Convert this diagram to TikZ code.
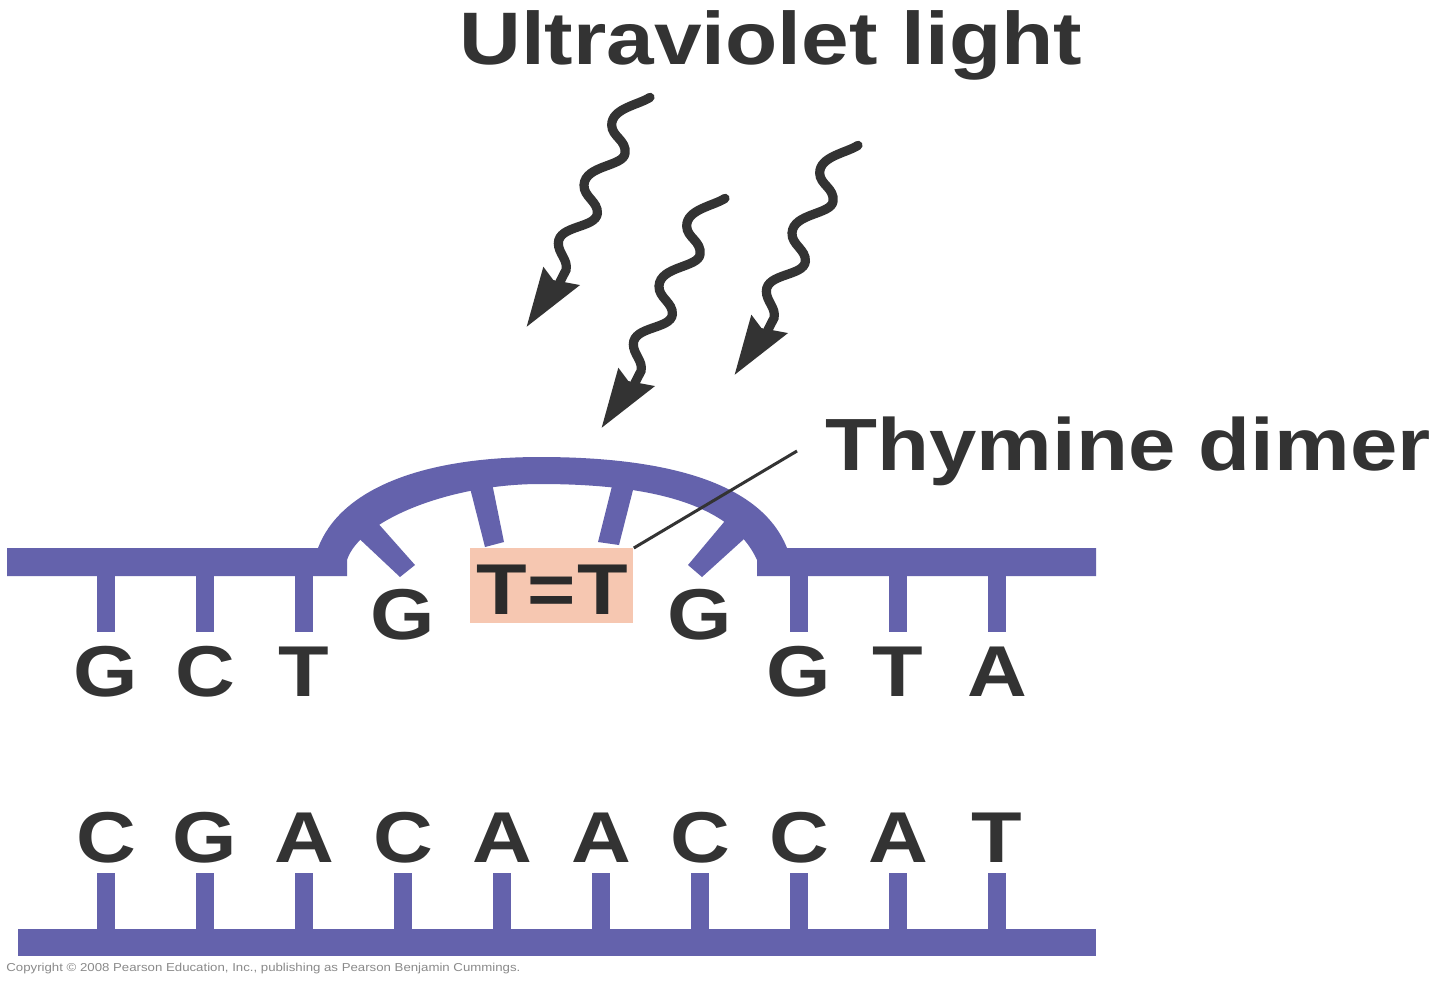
\documentclass[tikz,border=0pt]{standalone}
\usepackage{fontspec}
\setmainfont[FakeStretch=1.15]{Liberation Sans}
\definecolor{strand}{HTML}{6462AC}
\definecolor{ink}{HTML}{333333}
\definecolor{dimerbox}{HTML}{F6C7B1}
\definecolor{fine}{HTML}{8A8A8A}
\tikzset{
  base/.style={anchor=base,inner sep=0pt,text=ink,font=\bfseries\fontsize{36}{36}\selectfont},
  title/.style={anchor=base west,inner sep=0pt,text=ink,font=\bfseries\fontsize{37.2}{37}\selectfont},
  tick/.style={draw=strand,line width=9pt},
  strandfill/.style={fill=strand,draw=none},
  pics/uvray/.style={code={
    \begin{scope}[x=0.1667pt,y=-0.1667pt]
      \draw[ink,line width=4.6pt,line cap=round] (420,22) .. controls (385,45) and (305,55) .. (305,105) .. controls (305,140) and (350,150) .. (345,190) .. controls (340,230) and (225,225) .. (222,285) .. controls (220,320) and (265,335) .. (262,370) .. controls (258,415) and (145,405) .. (145,460) .. controls (145,490) and (175,510) .. (168,540) -- (150,575);
      \fill[ink] (50,710) -- (100,530) -- (130,570) -- (210,585) -- cycle;
    \end{scope}
  }}
}
\begin{document}
\begin{tikzpicture}[x=0.5pt,y=-0.5pt]
\useasboundingbox (0,0) rectangle (1440,982);
\fill[white] (0,0) rectangle (1440,982);
% upper strand with bulge
\path[strandfill] (7,548) -- (318,548)
  .. controls (340,490) and (420,457) .. (540,457)
  .. controls (660,457) and (760,480) .. (787,548)
  -- (1096,548) -- (1096,576) -- (757,576) -- (757,560)
  .. controls (730,500) and (640,484) .. (540,484)
  .. controls (450,484) and (360,520) .. (347,560)
  -- (347,576) -- (7,576) -- cycle;
% short slanted ticks
\path[strandfill] (368,512) -- (415,565) -- (400,577) -- (350,530) -- cycle;
\path[strandfill] (468,480) -- (491,478) -- (504,542) -- (485,547) -- cycle;
\path[strandfill] (614,478) -- (635,482) -- (619,545) -- (598,542) -- cycle;
\path[strandfill] (735,509) -- (755,529) -- (702,577) -- (688,565) -- cycle;
% lower strand
\path[strandfill] (18,929) rectangle (1096,956);
% upper ticks and letters
\foreach \n/\x/\l in {a/106/G,b/205/C,c/304/T,d/799/G,e/898/T,f/997/A}{
  \coordinate (ut\n) at (\x,570);
  \coordinate (ub\n) at (\x,632);
  \draw[tick] (ut\n) -- (ub\n);
  \node[base] (ul\n) at (\x,696) {\l};
}
% lower ticks and letters
\foreach \n/\x/\l in {a/106/C,b/205/G,c/304/A,d/403/C,e/502/A,f/601/A,g/700/C,h/799/C,i/898/A,j/997/T}{
  \coordinate (lt\n) at (\x,873);
  \coordinate (lb\n) at (\x,935);
  \draw[tick] (lt\n) -- (lb\n);
  \node[base] (ll\n) at (\x,862) {\l};
}
\node[base] (gl) at (403,639) {G};
\node[base] (gr) at (700,639) {G};
% thymine dimer
\node[fill=dimerbox,minimum width=81.5pt,minimum height=37.5pt,inner sep=0pt,anchor=north west] (dimer) at (470,548) {};
\node[base,text=ink!85!black] (tt) at (552,614) {T\kern0.6pt=\kern0.6pt T};
% labels
\node[title] (uv) at (459,64) {Ultraviolet light};
\node[title,font=\bfseries\fontsize{37}{37}\selectfont] (thy) at (825,470) {Thymine dimer};
\coordinate (leaderend) at (797,451);
\draw[ink,line width=1.5pt] (dimer.north east) -- (leaderend);
% rays
\pic at (510,90) {uvray};
\pic at (585,191) {uvray};
\pic at (718,138) {uvray};
% credit
\node[anchor=base west,inner sep=0pt,text=fine,font=\fontsize{5.75}{6}\selectfont] (credit) at (6,971) {Copyright © 2008 Pearson Education, Inc., publishing as Pearson Benjamin Cummings.};
\end{tikzpicture}
\end{document}
